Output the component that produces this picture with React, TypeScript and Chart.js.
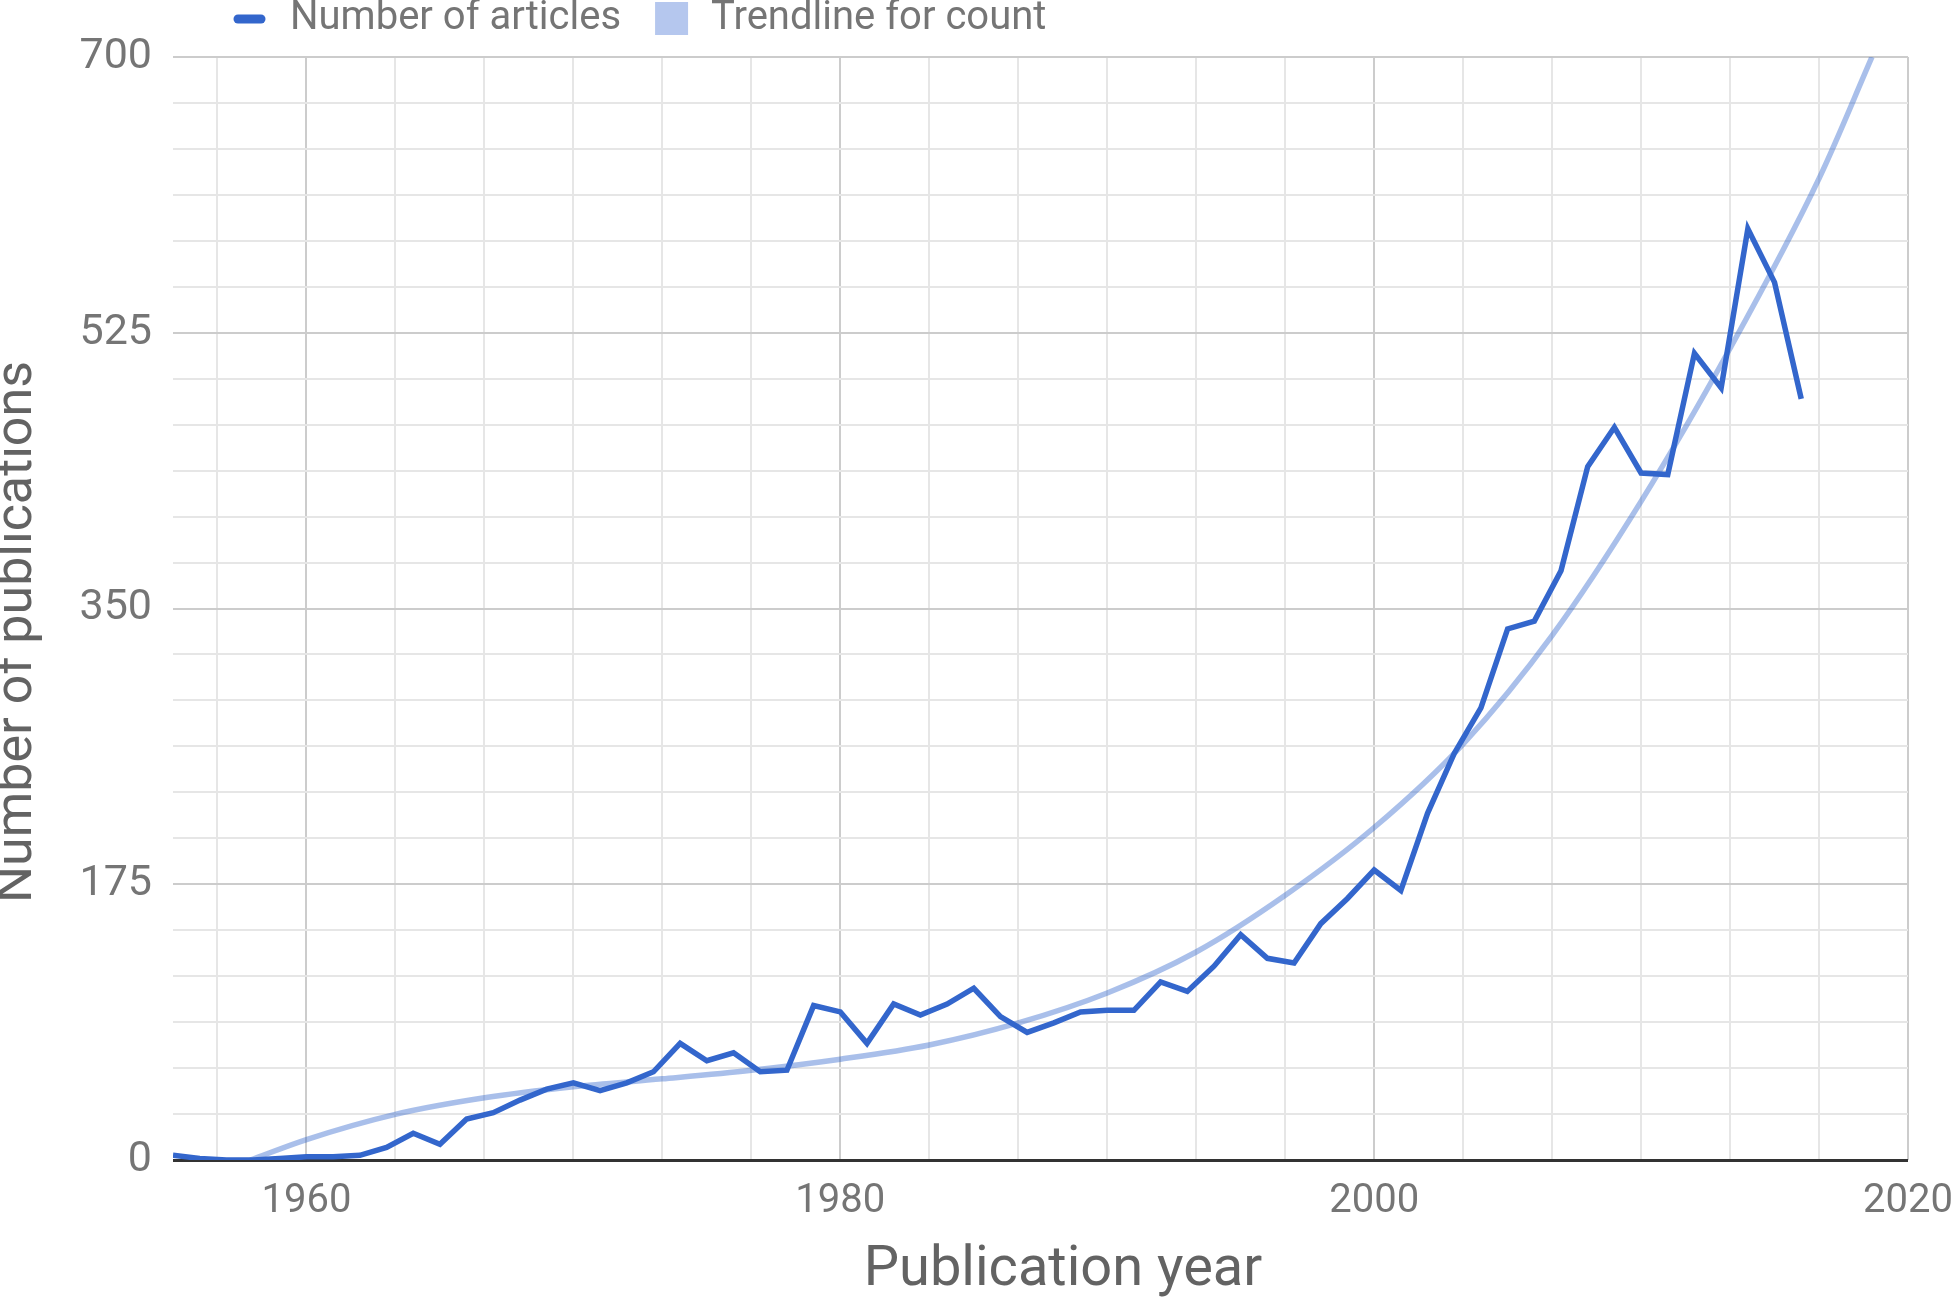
import React, { useEffect, useRef } from "react";
import { Chart, registerables } from "chart.js";

Chart.register(...registerables);

// ---- Data ----
const YEARS = [
  1955, 1956, 1957, 1958, 1959, 1960, 1961, 1962, 1963, 1964, 1965, 1966, 1967, 1968, 1969,
  1970, 1971, 1972, 1973, 1974, 1975, 1976, 1977, 1978, 1979, 1980, 1981, 1982, 1983, 1984,
  1985, 1986, 1987, 1988, 1989, 1990, 1991, 1992, 1993, 1994, 1995, 1996, 1997, 1998, 1999,
  2000, 2001, 2002, 2003, 2004, 2005, 2006, 2007, 2008, 2009, 2010, 2011, 2012, 2013, 2014,
  2015, 2016,
];
const ARTICLES = [
  3, 1, 0, 0, 1, 2, 2, 3, 8, 17, 10, 26, 30, 38, 45,
  49, 44, 49, 56, 74, 63, 68, 56, 57, 98, 94, 74, 99, 92, 99,
  109, 91, 81, 87, 94, 95, 95, 113, 107, 123, 143, 128, 125, 150, 166,
  184, 171, 220, 258, 287, 337, 342, 374, 440, 465, 436, 435, 512, 490, 591,
  557, 483,
];

// Trendline at sample years
const TREND_YEARS = [
  1957.9, 1960, 1963.33, 1966.67, 1970, 1973.33, 1976.67, 1980, 1983.33, 1986.67,
  1990, 1993.33, 1996.67, 2000, 2003.33, 2006.67, 2010, 2013.33, 2016.67, 2018.65,
];
const TREND_VALUES = [
  0, 13, 29, 39.5, 46.5, 51.5, 57, 64, 73, 87,
  106, 132, 168, 211, 264, 333, 418, 515, 623, 700,
];

const X_MAJOR_TICKS = [1960, 1980, 2000, 2020];
const Y_MAJOR_TICKS = [0, 175, 350, 525, 700];
const MINOR_DIVISIONS = 6;

const SERIES_LABEL = "Number of articles";
const TREND_LABEL = "Trendline for count";
const X_TITLE = "Publication year";
const Y_TITLE = "Number of publications";

const X_MIN = 1955;
const X_MAX = 2020;
const Y_MIN = 0;
const Y_MAX = 700;

// ---- Styles ----
const SERIES_COLOR = "#3366cc";
const TREND_COLOR = "rgba(51,102,204,0.42)";
const TREND_SWATCH = "#b5c7ee";
const TEXT_COLOR = "#757575";
const TITLE_COLOR = "#636363";
const FONT = "Roboto";

function buildTicks(majors: number[], min: number, max: number) {
  const step = (majors[1] - majors[0]) / MINOR_DIVISIONS;
  const out: number[] = [];
  let v = majors[0];
  while (v - step >= min - 1e-6) v -= step;
  for (; v <= max + 1e-6; v += step) out.push(Math.round(v * 1e6) / 1e6);
  return out;
}
function isMajor(v: number, majors: number[]) {
  return majors.some((m) => Math.abs(m - v) < 1e-3);
}

const decorPlugin = {
  id: "decor",
  afterDraw(chart: any) {
    const ctx = chart.ctx as CanvasRenderingContext2D;
    const ds = chart.data.datasets;
    ctx.save();
    // Legend
    ctx.font = `40px ${FONT}`;
    ctx.textBaseline = "middle";
    ctx.textAlign = "left";
    const cy = 19;
    let x = 233;
    ctx.strokeStyle = ds[0].borderColor;
    ctx.lineWidth = 9;
    ctx.lineCap = "round";
    ctx.beginPath();
    ctx.moveTo(x + 5, cy);
    ctx.lineTo(x + 28, cy);
    ctx.stroke();
    x += 57;
    ctx.fillStyle = TEXT_COLOR;
    ctx.fillText(ds[0].label, x, cy);
    x += ctx.measureText(ds[0].label).width + 34;
    ctx.fillStyle = TREND_SWATCH;
    ctx.fillRect(x, 2, 33, 33);
    x += 56;
    ctx.fillStyle = TEXT_COLOR;
    ctx.fillText(ds[1].label, x, cy);

    // Axis titles
    ctx.fillStyle = TITLE_COLOR;
    ctx.textAlign = "center";
    ctx.textBaseline = "alphabetic";
    ctx.font = `56px ${FONT}`;
    ctx.fillText(X_TITLE, 1063, 1285);
    ctx.font = `52px ${FONT}`;
    ctx.translate(31, 632);
    ctx.rotate(-Math.PI / 2);
    ctx.fillText(Y_TITLE, 0, 0);
    ctx.restore();
  },
};

export default function App() {
  const canvasRef = useRef<HTMLCanvasElement | null>(null);

  useEffect(() => {
    let chart: Chart | null = null;
    let cancelled = false;
    const make = () => {
      if (cancelled || !canvasRef.current) return;
      const xTicks = buildTicks(X_MAJOR_TICKS, X_MIN, X_MAX);
      const yTicks = buildTicks(Y_MAJOR_TICKS, Y_MIN, Y_MAX);
      chart = new Chart(canvasRef.current, {
        type: "line",
        data: {
          datasets: [
            {
              label: SERIES_LABEL,
              data: YEARS.map((y, i) => ({ x: y, y: ARTICLES[i] })),
              borderColor: SERIES_COLOR,
              backgroundColor: SERIES_COLOR,
              borderWidth: 5.5,
              pointRadius: 0,
              tension: 0,
              order: 1,
            },
            {
              label: TREND_LABEL,
              data: TREND_YEARS.map((y, i) => ({ x: y, y: TREND_VALUES[i] })),
              borderColor: TREND_COLOR,
              backgroundColor: TREND_COLOR,
              borderWidth: 5.5,
              pointRadius: 0,
              cubicInterpolationMode: "monotone",
              order: 0,
            },
          ],
        },
        options: {
          animation: false,
          responsive: true,
          maintainAspectRatio: false,
          layout: { padding: { top: 57, right: 46, left: 0, bottom: 0 } },
          plugins: { legend: { display: false }, tooltip: { enabled: false } },
          scales: {
            x: {
              type: "linear",
              min: X_MIN,
              max: X_MAX,
              afterBuildTicks: (s: any) => {
                s.ticks = xTicks.map((v) => ({ value: v }));
              },
              afterFit: (s: any) => {
                s.height = 140;
                s.paddingLeft = 0;
                s.paddingRight = 0;
              },
              ticks: {
                autoSkip: false,
                maxRotation: 0,
                padding: 18,
                color: TEXT_COLOR,
                font: { family: FONT, size: 40 },
                callback: (v: any) => (isMajor(Number(v), X_MAJOR_TICKS) ? String(Math.round(Number(v))) : ""),
              },
              grid: {
                drawTicks: false,
                lineWidth: 2,
                color: (c: any) => (isMajor(c.tick.value, X_MAJOR_TICKS) ? "#cccccc" : "#e6e6e6"),
              },
              border: { display: false },
            },
            y: {
              type: "linear",
              min: Y_MIN,
              max: Y_MAX,
              afterBuildTicks: (s: any) => {
                s.ticks = yTicks.map((v) => ({ value: v }));
              },
              afterFit: (s: any) => {
                s.width = 173;
                s.paddingTop = 0;
                s.paddingBottom = 0;
              },
              ticks: {
                autoSkip: false,
                padding: 21,
                color: TEXT_COLOR,
                font: { family: FONT, size: 43 },
                callback: (v: any) => (isMajor(Number(v), Y_MAJOR_TICKS) ? String(Math.round(Number(v))) : ""),
              },
              grid: {
                drawTicks: false,
                lineWidth: (c: any) => (Math.abs(c.tick.value) < 1e-3 ? 3 : 2),
                color: (c: any) =>
                  Math.abs(c.tick.value) < 1e-3
                    ? "#333333"
                    : isMajor(c.tick.value, Y_MAJOR_TICKS)
                    ? "#cccccc"
                    : "#e6e6e6",
              },
              border: { display: false },
            },
          },
        },
        plugins: [decorPlugin],
      });
    };
    const fontsReady = (document as any).fonts
      ? Promise.all([
          (document as any).fonts.load(`40px ${FONT}`),
          (document as any).fonts.load(`52px ${FONT}`),
        ]).catch(() => null)
      : Promise.resolve(null);
    fontsReady.then(make);
    return () => {
      cancelled = true;
      if (chart) chart.destroy();
    };
  }, []);

  return (
    <div style={{ position: "absolute", left: 0, top: 0, width: 1954, height: 1300, background: "#fff" }}>
      <canvas ref={canvasRef} />
    </div>
  );
}
